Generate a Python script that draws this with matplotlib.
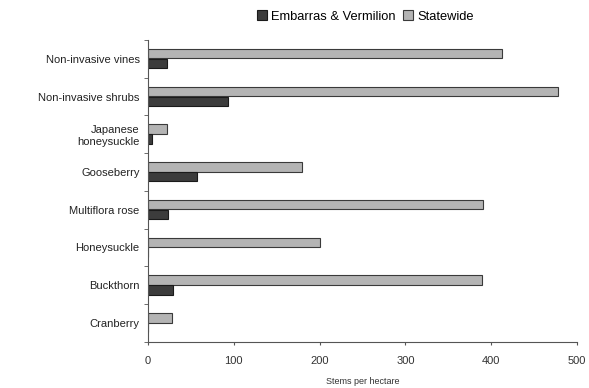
import matplotlib
matplotlib.use("Agg")
import matplotlib.pyplot as plt
import numpy as np

categories = ["Non-invasive vines", "Non-invasive shrubs", "Japanese\nhoneysuckle",
              "Gooseberry", "Multiflora rose", "Honeysuckle", "Buckthorn", "Cranberry"]
emb_verm = [22, 93, 5, 57, 23, 0, 29, 0]
statewide = [412, 478, 22, 180, 390, 200, 389, 28]
xticks = [0, 100, 200, 300, 400, 500]

plt.rcParams['font.family'] = ['Liberation Sans', 'DejaVu Sans']

fig = plt.figure(figsize=(5.89, 3.88), dpi=100)
ax = fig.add_axes([0.251, 0.119, 0.729, 0.778])

n = len(categories)
pos = np.arange(n)[::-1]
h = 0.25
ax.barh(pos + h/2 + 0.01, statewide, height=h, color="#b4b4b4", edgecolor="#3a3a3a",
        linewidth=0.8, label="Statewide")
ax.barh(pos - h/2, emb_verm, height=h, color="#3c3c3c", edgecolor="#1a1a1a",
        linewidth=0.8, label="Embarras & Vermilion")

ax.set_ylim(-0.5, n - 0.5)
ax.set_xlim(0, 500)
ax.set_yticks(pos)
ax.set_yticklabels(categories, fontsize=8, color="#222222")
ax.set_yticks(np.arange(-0.5, n, 1.0), minor=True)
ax.tick_params(axis='y', which='major', length=0, pad=6)
ax.tick_params(axis='y', which='minor', length=3, color="#555555")
ax.set_xticks(xticks)
ax.set_xticklabels([str(t) for t in xticks], fontsize=8, color="#333333")
ax.tick_params(axis='x', length=2, color="#555555", pad=8)
ax.set_xlabel("Stems per hectare", fontsize=6.5, color="#333333", labelpad=8)
for s in ["top", "right"]:
    ax.spines[s].set_visible(False)
for s in ["left", "bottom"]:
    ax.spines[s].set_color("#555555")
    ax.spines[s].set_linewidth(0.8)

handles, labels = ax.get_legend_handles_labels()
fig.legend(handles[::-1], labels[::-1], loc="center", bbox_to_anchor=(0.62, 0.957),
           ncol=2, frameon=False, fontsize=9.3, handlelength=0.8, handleheight=0.8,
           handletextpad=0.3, columnspacing=0.6)

fig.savefig("out.png", dpi=100)
